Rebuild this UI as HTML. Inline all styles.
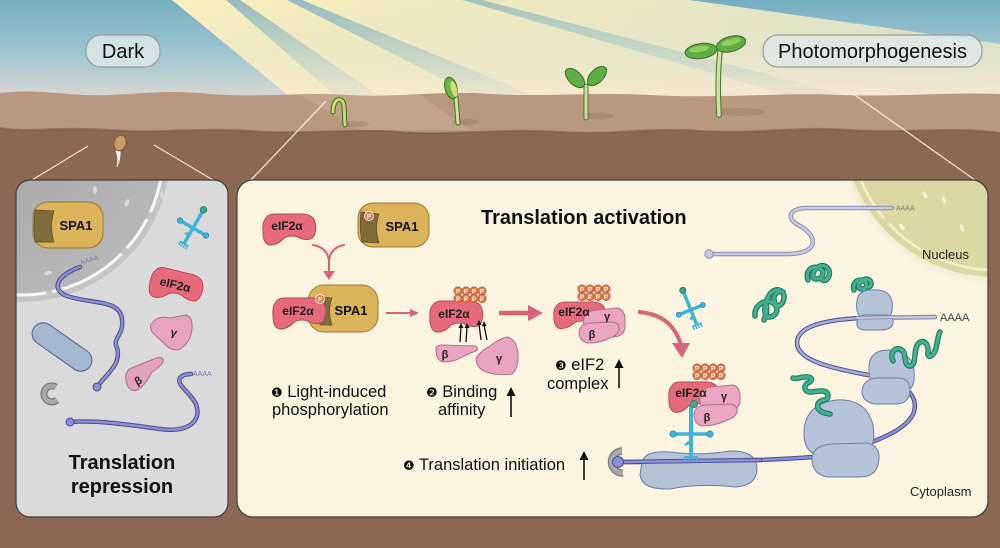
<!DOCTYPE html>
<html><head><meta charset="utf-8"><style>
html,body{margin:0;padding:0;background:#8b6651;}
svg{display:block}
text{font-family:"Liberation Sans",Arial,sans-serif;}
.num{font-family:"DejaVu Sans","Liberation Sans",sans-serif;}
</style></head><body>
<svg width="1000" height="548" viewBox="0 0 1000 548" xmlns="http://www.w3.org/2000/svg">
<defs>
 <linearGradient id="sky" x1="0" y1="0" x2="0" y2="1">
  <stop offset="0" stop-color="#74acc0"/>
  <stop offset="0.5" stop-color="#a9cbd4"/>
  <stop offset="0.82" stop-color="#e6dcd6"/>
  <stop offset="1" stop-color="#efdbd0"/>
 </linearGradient>
 <linearGradient id="ray" x1="0" y1="0" x2="1" y2="1">
  <stop offset="0" stop-color="#fdf2bd" stop-opacity="0.97"/>
  <stop offset="1" stop-color="#f7eccb" stop-opacity="0.6"/>
 </linearGradient>
 <linearGradient id="stripe" x1="0" y1="0" x2="0" y2="1">
  <stop offset="0" stop-color="#72a9be" stop-opacity="0.75"/>
  <stop offset="1" stop-color="#9dbfcc" stop-opacity="0.1"/>
 </linearGradient>
 <radialGradient id="nucL" cx="0.35" cy="0.35" r="0.65">
  <stop offset="0" stop-color="#a2a2a2"/>
  <stop offset="1" stop-color="#b6b6b6"/>
 </radialGradient>
 <radialGradient id="shR" cx="0.5" cy="0.5" r="0.5">
  <stop offset="0.88" stop-color="#d6d0a6" stop-opacity="0.7"/>
  <stop offset="1" stop-color="#faf4e1" stop-opacity="0"/>
 </radialGradient>
 <clipPath id="clipL"><rect x="16" y="180" width="212" height="337" rx="14"/></clipPath>
 <clipPath id="clipR"><rect x="237" y="180" width="751" height="337" rx="16"/></clipPath>
 <path id="eif" d="M5,4 Q1,8 2,18 Q2,30 9,31 Q17,31 23,24 Q31,20 39,24 Q49,28 53,22 Q57,12 52,4 Q47,-1 37,0 L14,0 Q7,0 5,4 Z"/>
</defs>

<!-- SKY -->
<rect x="0" y="0" width="1000" height="110" fill="url(#sky)"/>
<polygon points="172,0 690,0 1000,44 1000,105 300,105" fill="url(#ray)"/>
<polygon points="226,0 240,0 385,100 340,100" fill="url(#stripe)"/>
<polygon points="287,0 302,0 540,98 480,98" fill="url(#stripe)"/>
<polygon points="462,0 482,0 850,96 790,96" fill="url(#stripe)" opacity="0.8"/>
<polygon points="0,0 172,0 300,105 0,105" fill="#7fb2c3" opacity="0.2"/>

<!-- SOIL -->
<rect x="0" y="120" width="1000" height="428" fill="#8c6752"/>
<path d="M0,93 C40,88 70,97 110,95 C150,93 170,90 210,94 C260,98 300,92 350,95 C400,98 440,90 490,94 C540,97 600,92 650,95 C720,99 780,92 840,95 C900,97 950,92 1000,94 L1000,133 C950,126 900,134 850,130 C800,126 760,134 700,131 C650,127 620,135 560,132 C500,128 450,136 400,132 C350,128 300,135 250,131 C200,127 160,134 110,130 C60,126 30,133 0,128 Z" fill="#b8987f"/>
<path d="M0,128 C30,133 60,126 110,130 C160,134 200,127 250,131 C300,135 350,128 400,132 C450,136 500,128 560,132 C620,135 650,127 700,131 C760,134 800,126 850,130 C900,134 950,126 1000,133" fill="none" stroke="#7f5c48" stroke-width="2" opacity="0.6"/>
<polygon points="300,95 420,95 470,130 360,130" fill="#fff6d8" opacity="0.12"/>

<!-- callout lines -->
<g stroke="#f4ece4" stroke-width="1.3" opacity="0.9">
 <line x1="88" y1="146" x2="32" y2="180"/>
 <line x1="154" y1="145" x2="213" y2="180"/>
 <line x1="326" y1="101" x2="250" y2="181"/>
 <line x1="852" y1="93" x2="975" y2="180"/>
</g>

<!-- seed -->
<path d="M120,150 Q121,158 117,167 Q119,158 116,151 Z" fill="#fff" stroke="#eee" stroke-width="0.8"/>
<ellipse cx="120" cy="143" rx="6" ry="8" fill="#c69c68" stroke="#7a5a33" stroke-width="1" transform="rotate(15 120 143)"/>

<!-- seedlings -->
<g stroke-linecap="round">
 <ellipse cx="355" cy="124" rx="14" ry="3" fill="#8d705c" opacity="0.35"/>
 <path d="M345,125 L344,106 Q343,98 337,100 Q333,103 333,112" fill="none" stroke="#40652a" stroke-width="5"/>
 <path d="M345,125 L344,106 Q343,98 337,100 Q333,103 333,112" fill="none" stroke="#c4da72" stroke-width="3"/>
 <ellipse cx="466" cy="122" rx="14" ry="3" fill="#8d705c" opacity="0.35"/>
 <path d="M458,123 L456,98" stroke="#4e6e34" stroke-width="5"/>
 <path d="M458,123 L456,98" stroke="#cde3a6" stroke-width="3"/>
 <ellipse cx="451" cy="88" rx="6" ry="11" fill="#6db446" stroke="#3f6a2a" stroke-width="1" transform="rotate(-15 451 88)"/>
 <ellipse cx="454" cy="89" rx="3" ry="8" fill="#cfe070" transform="rotate(-15 454 89)"/>
 <ellipse cx="598" cy="116" rx="16" ry="3.5" fill="#8d705c" opacity="0.35"/>
 <path d="M586,118 L586,86" stroke="#4e6e34" stroke-width="5"/>
 <path d="M586,118 L586,86" stroke="#cde3a6" stroke-width="3"/>
 <ellipse cx="575" cy="78" rx="12" ry="6.5" fill="#5fae45" stroke="#3c6a28" stroke-width="1" transform="rotate(45 575 78)"/>
 <ellipse cx="597" cy="76" rx="12" ry="6.5" fill="#5fae45" stroke="#3c6a28" stroke-width="1" transform="rotate(-45 597 76)"/>
 <ellipse cx="740" cy="112" rx="26" ry="4" fill="#8d705c" opacity="0.35"/>
 <path d="M719,115 Q717,80 720,52" fill="none" stroke="#4e6e34" stroke-width="5.5"/>
 <path d="M719,115 Q717,80 720,52" fill="none" stroke="#cde3a6" stroke-width="3.5"/>
 <ellipse cx="701" cy="51" rx="16" ry="7.5" fill="#5fae45" stroke="#3c6a28" stroke-width="1" transform="rotate(-8 701 51)"/>
 <ellipse cx="731" cy="44" rx="15" ry="7.5" fill="#5fae45" stroke="#3c6a28" stroke-width="1" transform="rotate(-15 731 44)"/>
 <ellipse cx="699" cy="49" rx="10" ry="3" fill="#8fce5f" transform="rotate(-8 699 49)"/>
 <ellipse cx="731" cy="42" rx="10" ry="3" fill="#8fce5f" transform="rotate(-15 731 42)"/>
</g>

<!-- label pills -->
<rect x="86" y="35" width="74" height="32" rx="15" fill="#dde6e8" fill-opacity="0.85" stroke="#979d95" stroke-width="1.2"/>
<text x="123" y="58" font-size="20" text-anchor="middle" fill="#111">Dark</text>
<rect x="763" y="35" width="219" height="32" rx="15" fill="#dfe7e7" fill-opacity="0.85" stroke="#979d95" stroke-width="1.2"/>
<text x="872.5" y="58" font-size="20" text-anchor="middle" fill="#111">Photomorphogenesis</text>

<!-- LEFT PANEL -->
<rect x="16" y="180" width="212" height="337" rx="14" fill="#dadada"/>
<g clip-path="url(#clipL)">
 <circle cx="22" cy="154" r="148" fill="#c4c4c4"/>
 <circle cx="22" cy="154" r="139" fill="url(#nucL)"/>
 <circle cx="22" cy="154" r="141" fill="none" stroke="#f6f6f6" stroke-width="3" stroke-dasharray="60 8 35 8 80 6"/>
 <g fill="#d8d8d8">
  <ellipse cx="95" cy="190" rx="2" ry="4"/>
  <ellipse cx="127" cy="203" rx="2" ry="4" transform="rotate(20 127 203)"/>
  <ellipse cx="145" cy="250" rx="2" ry="4" transform="rotate(40 145 250)"/>
  <ellipse cx="110" cy="283" rx="2" ry="4" transform="rotate(60 110 283)"/>
  <ellipse cx="48" cy="273" rx="2" ry="4" transform="rotate(80 48 273)"/>
  <ellipse cx="162" cy="195" rx="1.8" ry="4"/>
 </g>
</g>
<rect x="16" y="180" width="212" height="337" rx="14" fill="none" stroke="#3d3d3d" stroke-width="1.2"/>

<!-- SPA1 left -->
<g transform="translate(33,202)">
 <rect x="0" y="0" width="70" height="46" rx="15" fill="#dbb35a" stroke="#9b782c" stroke-width="1"/>
 <path d="M2,8 L21,9 Q16,24 21,40 L2,40 Q0,24 2,8 Z" fill="#7e6c3b" stroke="#5e5028" stroke-width="0.8"/>
 <text x="43" y="28" font-size="13" font-weight="bold" text-anchor="middle" fill="#111">SPA1</text>
</g>

<!-- tRNA left -->
<g transform="translate(193,228) rotate(30)" stroke="#1f84a6" fill="#3eb4d8">
 <line x1="0" y1="-20" x2="0" y2="18" stroke="#3eb4d8" stroke-width="3.5"/>
 <line x1="-15" y1="0" x2="15" y2="0" stroke="#3eb4d8" stroke-width="3.5"/>
 <circle cx="0" cy="-21" r="3.2" fill="#3fa88a" stroke="#2b7d66"/>
 <circle cx="-15" cy="0" r="2.8" stroke-width="0.6"/>
 <circle cx="15" cy="0" r="2.8" stroke-width="0.6"/>
 <path d="M-5,18 L5,18 M-4,18 L-4,22 M-1.3,18 L-1.3,22 M1.3,18 L1.3,22 M4,18 L4,22" stroke="#3eb4d8" stroke-width="1.5"/>
 <path d="M0,6 L-4,9" stroke="#3eb4d8" stroke-width="2.5"/>
</g>

<!-- eIF2a left -->
<g transform="translate(148,271) rotate(14 28 15)">
 <use href="#eif" fill="#e56b7c" stroke="#b34a5b" stroke-width="1"/>
 <text x="27" y="18" font-size="12" font-weight="bold" text-anchor="middle" fill="#222">eIF2α</text>
</g>
<!-- gamma left -->
<path d="M152,323 Q158,315 170,318 L186,315 Q193,317 192,330 Q190,343 180,349 Q172,352 166,345 Q158,338 152,332 Q149,327 152,323 Z" fill="#e6a4be" stroke="#b26f8d" stroke-width="1"/>
<text x="173" y="336" font-size="11" font-weight="bold" text-anchor="middle" fill="#222" transform="rotate(15 173 336)">γ</text>
<!-- beta left -->
<path d="M126,380 Q124,370 134,367 L156,358 Q164,356 163,362 Q160,367 152,372 Q146,384 138,390 Q128,393 126,380 Z" fill="#e2a2bc" stroke="#b26f8d" stroke-width="1"/>
<text x="140" y="384" font-size="11" font-weight="bold" text-anchor="middle" fill="#222" transform="rotate(-30 140 384)">β</text>
<!-- blue capsule -->
<rect x="28" y="336" width="68" height="22" rx="11" fill="#a7b8d2" stroke="#5a6e94" stroke-width="1.2" transform="rotate(35 62 347)"/>
<!-- cap -->
<path d="M56,387 A8,8 0 1 0 57,400" fill="none" stroke="#7a7a7a" stroke-width="7"/>
<path d="M56,387 A8,8 0 1 0 57,400" fill="none" stroke="#a9a9a9" stroke-width="4.5"/>

<!-- mRNA left -->
<g fill="none" stroke-linecap="round">
 <path d="M80,267 C55,276 50,291 70,297 C95,304 121,300 122,320 C124,335 112,338 117,348 C122,365 105,375 97,387" stroke="#4b4e8c" stroke-width="4.5"/>
 <path d="M80,267 C55,276 50,291 70,297 C95,304 121,300 122,320 C124,335 112,338 117,348 C122,365 105,375 97,387" stroke="#8a8ed6" stroke-width="2.5"/>
 <path d="M70,422 C100,420 130,425 160,429 C190,433 202,420 196,404 C190,392 176,385 180,378 Q183,374 191,374" stroke="#4b4e8c" stroke-width="4.5"/>
 <path d="M70,422 C100,420 130,425 160,429 C190,433 202,420 196,404 C190,392 176,385 180,378 Q183,374 191,374" stroke="#8a8ed6" stroke-width="2.5"/>
</g>
<circle cx="97" cy="387" r="4" fill="#8a8ed6" stroke="#4b4e8c" stroke-width="1"/>
<circle cx="70" cy="422" r="4" fill="#8a8ed6" stroke="#4b4e8c" stroke-width="1"/>
<text x="81" y="265" font-size="7" fill="#7a7cb0" transform="rotate(-18 81 265)">AAAA</text>
<text x="193" y="376" font-size="7" fill="#7a7cb0">AAAA</text>

<text x="122" y="469" font-size="20" font-weight="bold" text-anchor="middle" fill="#111">Translation</text>
<text x="122" y="493" font-size="20" font-weight="bold" text-anchor="middle" fill="#111">repression</text>

<!-- RIGHT PANEL -->
<rect x="237" y="180" width="751" height="337" rx="16" fill="#faf4e1"/>
<g clip-path="url(#clipR)">
 <circle cx="995" cy="125" r="164" fill="url(#shR)"/>
 <circle cx="995" cy="125" r="152" fill="#dcd8a4"/>
 <circle cx="995" cy="125" r="145" fill="none" stroke="#f3efcf" stroke-width="2.5" stroke-dasharray="70 7 45 7 90 6"/>
 <g fill="#f4f0d6">
  <ellipse cx="902" cy="227" rx="2" ry="4" transform="rotate(-40 902 227)"/>
  <ellipse cx="925" cy="195" rx="2" ry="4" transform="rotate(-30 925 195)"/>
  <ellipse cx="962" cy="228" rx="2" ry="4" transform="rotate(-20 962 228)"/>
  <ellipse cx="944" cy="200" rx="1.8" ry="3.5" transform="rotate(-20 944 200)"/>
 </g>
</g>
<rect x="237" y="180" width="751" height="337" rx="16" fill="none" stroke="#3d3d3d" stroke-width="1.2"/>
<text x="922" y="259" font-size="13" fill="#222">Nucleus</text>
<text x="910" y="496" font-size="13" fill="#222">Cytoplasm</text>

<text x="481" y="224" font-size="20" font-weight="bold" fill="#111">Translation activation</text>

<!-- free eIF2a -->
<g transform="translate(261,214)">
 <use href="#eif" fill="#e56b7c" stroke="#b34a5b" stroke-width="1"/>
</g>
<text x="287" y="230" font-size="12" font-weight="bold" text-anchor="middle" fill="#222">eIF2α</text>

<!-- free SPA1 -->
<g transform="translate(358,203)">
 <rect x="0" y="0" width="71" height="44" rx="15" fill="#dbb35a" stroke="#9b782c" stroke-width="1"/>
 <path d="M3,9 L21,11 Q16,25 21,40 L4,39 Q1,24 3,9 Z" fill="#7e6c3b" stroke="#5e5028" stroke-width="0.8"/>
 <circle cx="11" cy="13" r="4.5" fill="#e0784a" stroke="#fff" stroke-width="0.8"/>
 <text x="11" y="15.5" font-size="6.5" font-weight="bold" text-anchor="middle" fill="#fff">P</text>
 <text x="44" y="28" font-size="13" font-weight="bold" text-anchor="middle" fill="#111">SPA1</text>
</g>

<!-- merge arrow -->
<g fill="none" stroke="#d6647a" stroke-width="2" stroke-linecap="round">
 <path d="M313,245 Q329,248 329,263 L329,272"/>
 <path d="M344,245 Q329,248 329,263"/>
</g>
<polygon points="323,271 335,271 329,280" fill="#d6647a"/>

<!-- complex step1 -->
<g transform="translate(308,285)">
 <rect x="0" y="0" width="70" height="47" rx="16" fill="#dbb35a" stroke="#9b782c" stroke-width="1"/>
 <path d="M10,12 L24,13 Q19,26 24,40 L12,40 Z" fill="#7e6c3b" stroke="#5e5028" stroke-width="0.8"/>
 <text x="43" y="30" font-size="13" font-weight="bold" text-anchor="middle" fill="#111">SPA1</text>
</g>
<g transform="translate(271,298)">
 <use href="#eif" fill="#e56b7c" stroke="#b34a5b" stroke-width="1"/>
</g>
<circle cx="320" cy="299" r="4.5" fill="#e0784a" stroke="#fff" stroke-width="0.8"/>
<text x="320" y="301.5" font-size="6.5" font-weight="bold" text-anchor="middle" fill="#fff">P</text>
<text x="298" y="315" font-size="12" font-weight="bold" text-anchor="middle" fill="#222">eIF2α</text>

<!-- arrow 1->2 -->
<line x1="386" y1="313" x2="412" y2="313" stroke="#d6647a" stroke-width="2"/>
<polygon points="410,309 419,313 410,317" fill="#d6647a"/>

<!-- step2 -->
<g transform="translate(428,301)">
 <use href="#eif" fill="#e56b7c" stroke="#b34a5b" stroke-width="1"/>
</g>
<g transform="translate(454,287)">
 <g fill="#e0784a" stroke="#b8552f" stroke-width="0.6">
  <circle cx="4" cy="4" r="4.2"/><circle cx="12" cy="4" r="4.2"/><circle cx="20" cy="4" r="4.2"/><circle cx="28" cy="4" r="4.2"/>
  <circle cx="4" cy="11.5" r="4.2"/><circle cx="12" cy="11.5" r="4.2"/><circle cx="20" cy="11.5" r="4.2"/><circle cx="28" cy="11.5" r="4.2"/>
 </g>
 <text x="4 12 20 28" y="6.3" font-size="6.5" font-weight="bold" text-anchor="middle" fill="#fff">PPPP</text>
 <text x="4 12 20 28" y="13.8" font-size="6.5" font-weight="bold" text-anchor="middle" fill="#fff">PPPP</text>
</g>
<text x="454" y="318" font-size="12" font-weight="bold" text-anchor="middle" fill="#222">eIF2α</text>
<!-- small arrows -->
<g stroke="#111" stroke-width="1.3">
 <line x1="460" y1="342" x2="461" y2="327"/><line x1="466" y1="342" x2="467" y2="327"/>
 <line x1="481" y1="340" x2="479" y2="324"/><line x1="487" y1="340" x2="484" y2="325"/>
</g>
<g fill="#111">
 <polygon points="458.5,328 461,323 463.5,328"/><polygon points="464.5,328 467,323 469.5,328"/>
 <polygon points="476.5,325 479,320 481.5,325"/><polygon points="482,326 484,321 486.5,326"/>
</g>
<path d="M436,350 Q435,345 442,345 L476,346 Q479,348 476,351 Q470,353 464,356 Q455,362 444,362 Q436,361 436,350 Z" fill="#e6a4be" stroke="#b26f8d" stroke-width="1"/>
<text x="445" y="358" font-size="11" font-weight="bold" text-anchor="middle" fill="#222">β</text>
<path d="M476,358 Q482,350 490,346 Q500,338 508,337 Q516,340 518,352 Q519,368 512,374 Q498,376 486,372 Q476,368 476,358 Z" fill="#e6a4be" stroke="#b26f8d" stroke-width="1"/>
<text x="499" y="362" font-size="11" font-weight="bold" text-anchor="middle" fill="#222">γ</text>

<!-- big arrow 2->3 -->
<line x1="499" y1="313" x2="530" y2="313" stroke="#d6647a" stroke-width="4.5"/>
<polygon points="528,305 543,313 528,321" fill="#d6647a"/>

<!-- step3 complex -->
<g transform="translate(552,302) scale(0.98,0.86)">
 <use href="#eif" fill="#e56b7c" stroke="#b34a5b" stroke-width="1"/>
</g>
<g transform="translate(578,285)">
 <g fill="#e0784a" stroke="#b8552f" stroke-width="0.6">
  <circle cx="4" cy="4" r="4.2"/><circle cx="12" cy="4" r="4.2"/><circle cx="20" cy="4" r="4.2"/><circle cx="28" cy="4" r="4.2"/>
  <circle cx="4" cy="11.5" r="4.2"/><circle cx="12" cy="11.5" r="4.2"/><circle cx="20" cy="11.5" r="4.2"/><circle cx="28" cy="11.5" r="4.2"/>
 </g>
 <text x="4 12 20 28" y="6.3" font-size="6.5" font-weight="bold" text-anchor="middle" fill="#fff">PPPP</text>
 <text x="4 12 20 28" y="13.8" font-size="6.5" font-weight="bold" text-anchor="middle" fill="#fff">PPPP</text>
</g>
<path d="M584,318 Q588,310 598,310 L618,308 Q625,310 625,320 L625,328 Q624,336 614,337 L590,337 Q582,334 584,318 Z" fill="#eaa6c0" stroke="#b26f8d" stroke-width="1"/>
<path d="M579,332 Q580,324 590,323 L612,322 Q620,323 619,330 Q617,336 610,338 Q600,343 588,343 Q579,341 579,332 Z" fill="#eaa6c0" stroke="#b26f8d" stroke-width="1"/>
<text x="574" y="316" font-size="12" font-weight="bold" text-anchor="middle" fill="#222">eIF2α</text>
<text x="607" y="320" font-size="11" font-weight="bold" text-anchor="middle" fill="#222">γ</text>
<text x="592" y="338" font-size="11" font-weight="bold" text-anchor="middle" fill="#222">β</text>

<!-- step labels -->
<g font-size="16.5" fill="#111">
 <text x="271" y="397"><tspan class="num" font-size="13">❶</tspan> Light-induced</text>
 <text x="272" y="415">phosphorylation</text>
 <text x="426" y="397"><tspan class="num" font-size="13">❷</tspan> Binding</text>
 <text x="438" y="415">affinity</text>
 <text x="555" y="370"><tspan class="num" font-size="13">❸</tspan> eIF2</text>
 <text x="547" y="389">complex</text>
 <text x="403" y="470"><tspan class="num" font-size="13">❹</tspan> Translation initiation</text>
</g>
<g stroke="#111" stroke-width="1.6">
 <line x1="511" y1="417" x2="511" y2="394"/>
 <line x1="619" y1="388" x2="619" y2="366"/>
 <line x1="584" y1="480" x2="584" y2="458"/>
</g>
<g fill="#111">
 <polygon points="506.5,396 511,387 515.5,396"/>
 <polygon points="614.5,368 619,359 623.5,368"/>
 <polygon points="579.5,460 584,451 588.5,460"/>
</g>

<!-- top faint mRNA -->
<g fill="none" stroke-linecap="round">
 <path d="M709,254 L787,254 C820,254 818,236 800,226 C784,218 790,208 807,208 L892,208" stroke="#8c8db3" stroke-width="4.5"/>
 <path d="M709,254 L787,254 C820,254 818,236 800,226 C784,218 790,208 807,208 L892,208" stroke="#c9c9e0" stroke-width="2.6"/>
</g>
<circle cx="709" cy="254" r="4.2" fill="#c9c9e0" stroke="#8c8db3" stroke-width="1"/>
<text x="896" y="210.5" font-size="7" fill="#777">AAAA</text>

<!-- free tRNA right -->
<g transform="translate(690,308) rotate(-22)" fill="#3eb4d8" stroke="#1f84a6">
 <line x1="0" y1="-18" x2="0" y2="18" stroke="#3eb4d8" stroke-width="3.5"/>
 <line x1="-13" y1="2" x2="13" y2="2" stroke="#3eb4d8" stroke-width="3.5"/>
 <circle cx="0" cy="-19" r="3" fill="#3fa88a" stroke="#2b7d66"/>
 <circle cx="-13" cy="2" r="2.6" stroke-width="0.6"/>
 <circle cx="13" cy="2" r="2.6" stroke-width="0.6"/>
 <path d="M-5,18 L5,18 M-4,18 L-4,22 M-1.3,18 L-1.3,22 M1.3,18 L1.3,22 M4,18 L4,22" stroke="#3eb4d8" stroke-width="1.5"/>
 <path d="M0,8 L-4,11" stroke="#3eb4d8" stroke-width="2.5"/>
</g>

<!-- curved arrow -->
<path d="M638,312 Q672,314 681,345" fill="none" stroke="#d6647a" stroke-width="4"/>
<polygon points="672,343 690,343 682,358" fill="#d6647a"/>

<!-- green folded proteins -->
<g fill="none" stroke-linecap="round" stroke-linejoin="round">
 <g stroke="#1f7a62" stroke-width="5.5">
  <path d="M755,316 C754,306 763,300 771,302 C780,305 778,316 770,317 C762,318 764,303 770,294 C775,287 784,289 784,297 C784,305 776,310 774,300 C773,295 778,290 783,292 M764,320 Q768,312 766,304"/>
  <path d="M808,280 C805,271 812,265 819,268 C826,271 823,279 816,279 C810,279 813,269 820,266 C826,264 831,270 829,276 C827,282 820,282 822,276"/>
  <path d="M854,290 C852,283 858,278 864,281 C869,284 866,290 861,289 C856,288 859,280 866,279 C871,279 873,285 869,287 M864,290 L868,296"/>
 </g>
 <g stroke="#43b08f" stroke-width="3.2">
  <path d="M755,316 C754,306 763,300 771,302 C780,305 778,316 770,317 C762,318 764,303 770,294 C775,287 784,289 784,297 C784,305 776,310 774,300 C773,295 778,290 783,292 M764,320 Q768,312 766,304"/>
  <path d="M808,280 C805,271 812,265 819,268 C826,271 823,279 816,279 C810,279 813,269 820,266 C826,264 831,270 829,276 C827,282 820,282 822,276"/>
  <path d="M854,290 C852,283 858,278 864,281 C869,284 866,290 861,289 C856,288 859,280 866,279 C871,279 873,285 869,287 M864,290 L868,296"/>
 </g>
</g>

<!-- main mRNA -->
<g fill="none" stroke-linecap="round">
 <g stroke="#4b4e8c" stroke-width="4.5">
  <path d="M618,462 C700,462 760,461 813,457"/>
  <path d="M860,446 C895,435 920,420 914,400 C911,392 905,388 900,386"/>
  <path d="M868,375 C830,368 796,360 797,342 C798,326 825,320 860,318"/>
 </g>
 <path d="M860,318 L935,317" stroke="#7e80a8" stroke-width="4.5"/>
 <g stroke="#8a8ed6" stroke-width="2.6">
  <path d="M618,462 C700,462 760,461 813,457"/>
  <path d="M860,446 C895,435 920,420 914,400 C911,392 905,388 900,386"/>
 </g>
 <path d="M868,375 C830,368 796,360 797,342 C798,326 825,320 860,318" stroke="#a9abdc" stroke-width="2.6"/>
 <path d="M860,318 L935,317" stroke="#c8c8e0" stroke-width="2.6"/>
</g>
<text x="940" y="321" font-size="11" fill="#444">AAAA</text>

<!-- 48S oval -->
<path d="M642,462 Q645,450 670,452 Q700,456 730,451 Q756,450 757,468 Q757,486 735,487 Q700,483 670,489 Q642,490 640,475 Z" fill="#b4c2d8" stroke="#6e7fa2" stroke-width="1"/>
<line x1="622" y1="462" x2="760" y2="460" stroke="#4b4e8c" stroke-width="4.5" stroke-linecap="round"/>
<line x1="622" y1="462" x2="760" y2="460" stroke="#8a8ed6" stroke-width="2.6" stroke-linecap="round"/>
<!-- cap right -->
<path d="M622,451 A11,11 0 1 0 623,473" fill="none" stroke="#7a7a7a" stroke-width="7.5"/>
<path d="M622,451 A11,11 0 1 0 623,473" fill="none" stroke="#a9a9a9" stroke-width="5"/>
<circle cx="618" cy="462" r="5.5" fill="#8a8ed6" stroke="#4b4e8c" stroke-width="1"/>

<!-- bound tRNA -->
<g fill="#3eb4d8" stroke="#1f84a6">
 <line x1="691" y1="405" x2="691" y2="458" stroke="#3eb4d8" stroke-width="4"/>
 <line x1="674" y1="434" x2="709" y2="434" stroke="#3eb4d8" stroke-width="3.5"/>
 <circle cx="673" cy="434" r="3.2" stroke-width="0.6"/>
 <circle cx="710" cy="434" r="3.2" stroke-width="0.6"/>
 <path d="M691,441 L685,445" stroke="#3eb4d8" stroke-width="2.8"/>
 <path d="M684,457 L698,457 M685,457 L685,462 M689,457 L689,462 M693,457 L693,462 M697,457 L697,462" stroke="#3eb4d8" stroke-width="1.8"/>
</g>

<!-- bottom eIF2 complex -->
<g transform="translate(667,382) scale(0.95,0.98)">
 <use href="#eif" fill="#e56b7c" stroke="#b34a5b" stroke-width="1"/>
</g>
<g transform="translate(693,364)">
 <g fill="#e0784a" stroke="#b8552f" stroke-width="0.6">
  <circle cx="4" cy="4" r="4.2"/><circle cx="12" cy="4" r="4.2"/><circle cx="20" cy="4" r="4.2"/><circle cx="28" cy="4" r="4.2"/>
  <circle cx="4" cy="11.5" r="4.2"/><circle cx="12" cy="11.5" r="4.2"/><circle cx="20" cy="11.5" r="4.2"/><circle cx="28" cy="11.5" r="4.2"/>
 </g>
 <text x="4 12 20 28" y="6.3" font-size="6.5" font-weight="bold" text-anchor="middle" fill="#fff">PPPP</text>
 <text x="4 12 20 28" y="13.8" font-size="6.5" font-weight="bold" text-anchor="middle" fill="#fff">PPPP</text>
</g>
<path d="M700,396 Q703,387 712,387 L733,385 Q740,387 740,396 L740,402 Q739,409 730,410 L706,410 Q699,407 700,396 Z" fill="#eaa6c0" stroke="#b26f8d" stroke-width="1"/>
<path d="M694,414 Q695,406 705,405 L730,404 Q738,405 737,412 Q735,418 727,420 Q716,426 702,426 Q694,424 694,414 Z" fill="#eaa6c0" stroke="#b26f8d" stroke-width="1"/>
<text x="691" y="397" font-size="12" font-weight="bold" text-anchor="middle" fill="#222">eIF2α</text>
<text x="724" y="400" font-size="11" font-weight="bold" text-anchor="middle" fill="#222">γ</text>
<text x="707" y="421" font-size="11" font-weight="bold" text-anchor="middle" fill="#222">β</text>
<circle cx="694" cy="404" r="3.6" fill="#3fa88a" stroke="#2b7d66" stroke-width="0.8"/>

<!-- ribosomes -->
<g fill="#b5c2d7" stroke="#6e7fa2" stroke-width="1">
 <path d="M857,301 Q858,290 872,290 Q890,289 892,302 Q894,316 885,319 L862,319 Q855,313 857,301 Z"/>
 <path d="M857,322 Q858,314 870,315 L887,315 Q894,316 893,323 Q892,330 880,330 L864,330 Q856,329 857,322 Z"/>
 <path d="M869,366 Q870,350 889,350 Q911,351 914,370 Q916,390 904,392 L880,392 Q868,385 869,366 Z"/>
 <path d="M862,391 Q863,379 877,378 L900,378 Q910,379 910,391 Q909,404 896,404 L875,404 Q862,402 862,391 Z"/>
 <path d="M804,432 Q805,404 836,400 Q866,398 873,425 Q877,452 860,456 L820,456 Q803,452 804,432 Z"/>
 <path d="M812,459 Q813,445 832,444 L866,443 Q880,445 879,459 Q878,477 860,477 L827,477 Q812,474 812,459 Z"/>
</g>
<line x1="856" y1="318" x2="893" y2="317" stroke="#8c8db3" stroke-width="3.5"/>
<line x1="856" y1="318" x2="893" y2="317" stroke="#c4c5e2" stroke-width="2"/>

<!-- green spirals -->
<g fill="none" stroke-linecap="round" stroke-linejoin="round">
 <path d="M893,361 C889,352 896,346 902,350 C907,354 903,366 910,366 C917,366 913,350 918,344 C923,338 929,344 928,352 C927,360 934,356 936,348 C938,340 938,335 940,332" stroke="#1f7a62" stroke-width="5.5"/>
 <path d="M893,361 C889,352 896,346 902,350 C907,354 903,366 910,366 C917,366 913,350 918,344 C923,338 929,344 928,352 C927,360 934,356 936,348 C938,340 938,335 940,332" stroke="#43b08f" stroke-width="3.3"/>
 <path d="M830,414 C822,413 816,410 818,404 C820,398 828,402 828,396 C828,389 818,391 812,392 C805,393 802,386 808,383 C814,380 812,376 804,377 C798,378 795,379 793,378" stroke="#1f7a62" stroke-width="5.5"/>
 <path d="M830,414 C822,413 816,410 818,404 C820,398 828,402 828,396 C828,389 818,391 812,392 C805,393 802,386 808,383 C814,380 812,376 804,377 C798,378 795,379 793,378" stroke="#43b08f" stroke-width="3.3"/>
</g>
</svg>
</body></html>
